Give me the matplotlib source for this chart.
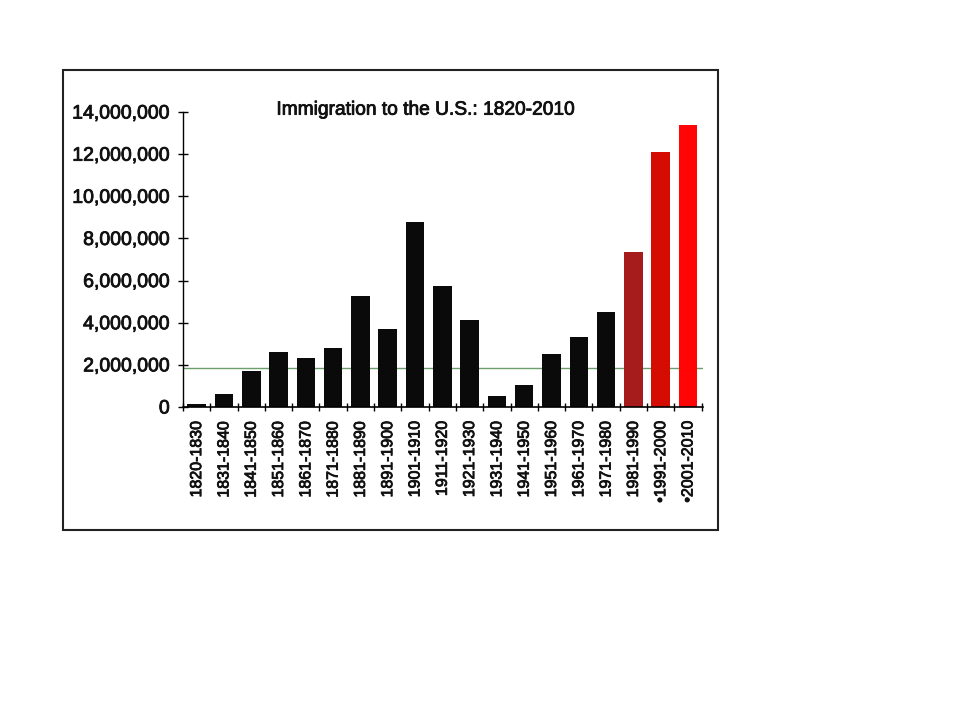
import numpy as np
import matplotlib.pyplot as plt
import matplotlib.patheffects as pe
from matplotlib.patches import Rectangle
from matplotlib.ticker import FuncFormatter

plt.rcParams['font.family'] = ['Liberation Sans', 'DejaVu Sans']

# decades and number of immigrants
decades = ['1820-1830', '1831-1840', '1841-1850', '1851-1860', '1861-1870',
           '1871-1880', '1881-1890', '1891-1900', '1901-1910', '1911-1920',
           '1921-1930', '1931-1940', '1941-1950', '1951-1960', '1961-1970',
           '1971-1980', '1981-1990', '\u20221991-2000', '\u20222001-2010']
immigrants = [152000, 600000, 1713000, 2598000, 2315000,
              2812000, 5247000, 3688000, 8795000, 5736000,
              4107000, 528000, 1035000, 2515000, 3322000,
              4493000, 7338000, 12100000, 13400000]
colors = ['#0a0a0a'] * 16 + ['#a61c1c', '#d40c02', '#ff0505']
ref_level = 1850000  # horizontal green line

thick = [pe.withStroke(linewidth=0.6, foreground='#111111')]  # scanned text looks heavier

fig = plt.figure(figsize=(9.6, 7.2), dpi=100)

# frame around the chart
fig.patches.append(Rectangle((0.0656, 0.2639), 0.682, 0.639, transform=fig.transFigure,
                             fill=False, edgecolor='#222222', linewidth=1.5))

ax = fig.add_axes([0.1906, 0.4347, 0.5417, 0.4097])
x = np.arange(len(decades))
ax.bar(x, immigrants, width=0.68, color=colors, zorder=2)
ax.axhline(ref_level, color='#6a9e6a', linewidth=1, zorder=1)

ax.set_xlim(-0.5, len(decades) - 0.45)
ax.set_ylim(0, 14000000)
ax.set_yticks(np.arange(0, 14000001, 2000000))
ax.yaxis.set_major_formatter(FuncFormatter(lambda v, p: '{:,.0f}'.format(v)))
ax.tick_params(axis='y', direction='inout', length=7, width=1, labelsize=14, pad=6)

ax.set_xticks(x)
ax.set_xticklabels(decades, rotation=90, fontsize=11.5)
ax.set_xticks(np.arange(-0.5, len(decades), 1), minor=True)
ax.tick_params(axis='x', which='major', length=0, pad=10)
ax.tick_params(axis='x', which='minor', direction='inout', length=6, width=1)

for lab in ax.get_xticklabels() + ax.get_yticklabels():
    lab.set_color('#111111')
    lab.set_path_effects(thick)

for s in ['top', 'right']:
    ax.spines[s].set_visible(False)
ax.spines['left'].set_linewidth(1)
ax.spines['bottom'].set_linewidth(1.2)

fig.text(0.443, 0.847, 'Immigration to the U.S.: 1820-2010', ha='center', va='center',
         fontsize=13.8, color='#111111', path_effects=thick)

plt.savefig('out.png', dpi=100)
plt.close()
